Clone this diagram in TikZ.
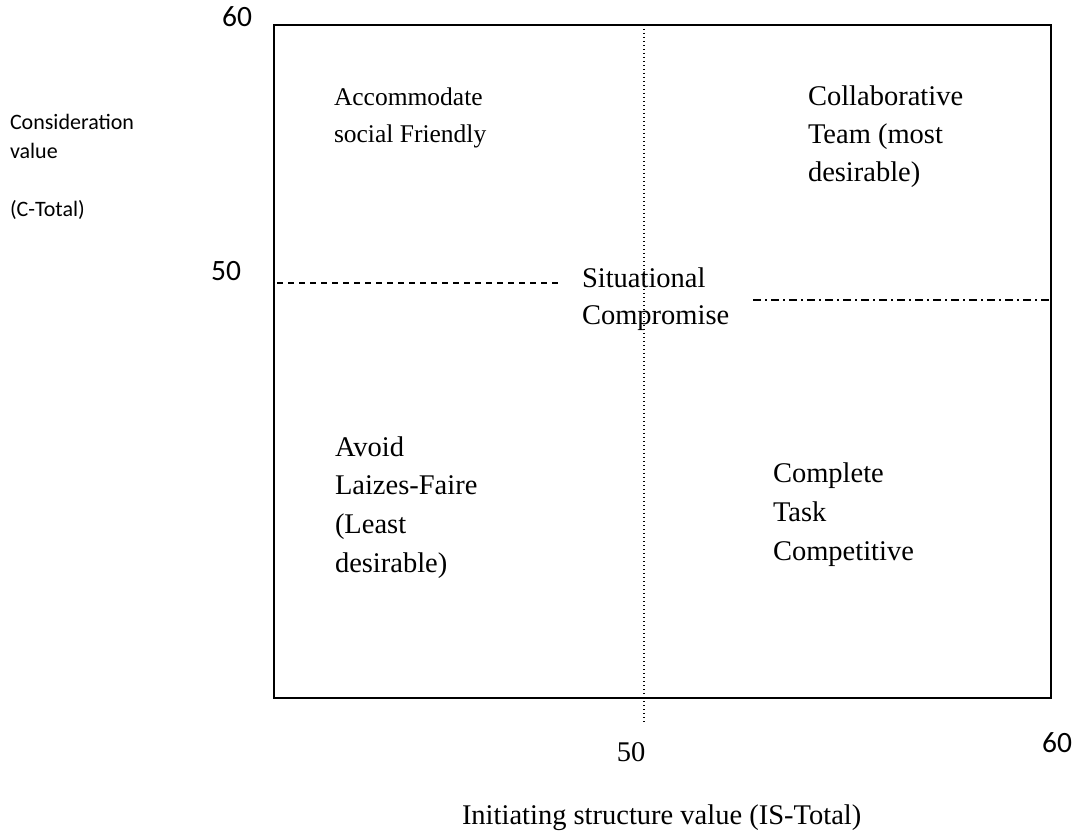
\documentclass[tikz,border=0pt]{standalone}
\usepackage{fontspec}
\setmainfont{Liberation Serif}
\newfontfamily\calfont{Carlito}
\begin{document}
\begin{tikzpicture}[x=1pt,y=-1pt,
  lbl/.style={inner sep=0pt,outer sep=0pt,anchor=base west,align=left,
    font=\fontsize{28.5}{38.6}\selectfont},
  small/.style={inner sep=0pt,outer sep=0pt,anchor=base west,align=left,
    font=\fontsize{25.5}{37}\selectfont},
  num/.style={inner sep=0pt,outer sep=0pt,anchor=base,
    font=\calfont\fontsize{29.5}{30}\selectfont},
  side/.style={inner sep=0pt,outer sep=0pt,anchor=base west,align=left,
    font=\calfont\fontsize{22}{29}\selectfont},
  boxline/.style={line width=2pt},
  dotline/.style={line width=1.4pt,dash pattern=on 1.4pt off 2.6pt},
  dashline/.style={line width=1.3pt,dash pattern=on 6pt off 5pt},
  dashdotline/.style={line width=1.3pt,dash pattern=on 8pt off 4pt on 2pt off 4pt}]
\useasboundingbox (0,0) rectangle (1077,834);
% frame
\coordinate (tl) at (274,25);
\coordinate (br) at (1051,698);
\draw[boxline] (tl) rectangle (br);
% vertical dotted line
\coordinate (vtop) at (644,25);
\coordinate (vbot) at (644,722);
\draw[dotline] (vtop) -- (vbot);
% horizontal lines
\coordinate (hl1) at (277,283);
\coordinate (hl2) at (560,283);
\draw[dashline] (hl1) -- (hl2);
\coordinate (hr1) at (753,300);
\coordinate (hr2) at (1051,300);
\draw[dashdotline] (hr1) -- (hr2);
% axis numbers
\node[num] (y60) at (237,27) {60};
\node[num] (y50) at (226,281) {50};
\node[num] (x60) at (1057,752) {60};
\node[inner sep=0pt,anchor=base,font=\fontsize{28.5}{30}\selectfont] (x50) at (631,761) {50};
% axis titles (anchored at the baseline of the last line)
\node[side] (ytitle) at (10,217) {Consideration\\value\\\strut\\(C-Total)};
\node[lbl] (xtitle) at (462,824) {Initiating structure value (IS-Total)};
% quadrant labels (anchored at the baseline of the last line)
\node[small] (q1) at (334,143) {Accommodate\\social Friendly};
\node[lbl,font=\fontsize{28.5}{38}\selectfont] (q2) at (808,182) {Collaborative\\Team (most\\desirable)};
\node[lbl,font=\fontsize{28.5}{37}\selectfont] (q0) at (582,325) {Situational\\Compromise};
\node[lbl] (q3) at (335,572) {Avoid\\Laizes-Faire\\(Least\\desirable)};
\node[lbl] (q4) at (773,560) {Complete\\Task\\Competitive};
\end{tikzpicture}
\end{document}
